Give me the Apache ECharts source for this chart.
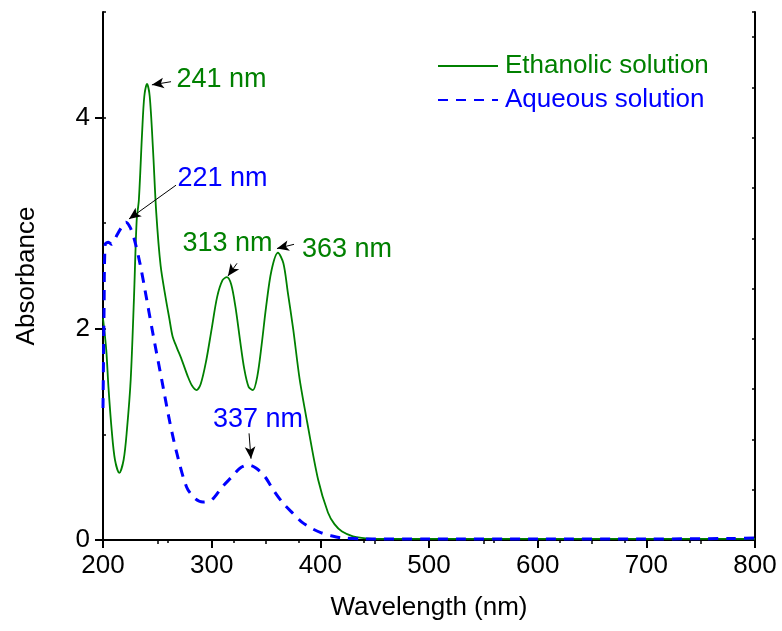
<!DOCTYPE html>
<html>
<head>
<meta charset="utf-8">
<script src="https://cdn.jsdelivr.net/npm/echarts/dist/echarts.min.js"></script>
<style>
  html, body { margin: 0; padding: 0; background: #fff; }
  #main { width: 782px; height: 631px; }
</style>
</head>
<body>
<div id="main"></div>
<script>
// values
var ethanolWl = [200, 203, 205, 208, 211, 215, 219, 222, 225.5, 228.5, 231, 233, 236, 238, 240.5,
  243, 246, 249, 253, 257.7, 261, 264, 268, 272, 278, 282, 286, 290, 295, 300, 305, 310, 314,
  318, 322, 326, 330, 334, 338, 342, 346, 350, 355, 361, 366, 370, 375, 381, 388, 398, 407,
  413, 420, 430, 438, 450, 500, 600, 700, 800];
var ethanolAbs = [2.1, 1.8, 1.45, 1.04, 0.76, 0.635, 0.76, 1.04, 1.52, 2.29, 3.03, 3.22, 3.86, 4.2, 4.32,
  4.2, 3.7, 3.1, 2.6, 2.29, 2.1, 1.93, 1.82, 1.72, 1.55, 1.46, 1.42, 1.48, 1.7, 2.0, 2.3, 2.46, 2.49,
  2.42, 2.2, 1.9, 1.62, 1.45, 1.42, 1.55, 1.85, 2.2, 2.55, 2.72, 2.62, 2.35, 2.0, 1.52, 1.11, 0.57, 0.26,
  0.15, 0.08, 0.035, 0.02, 0.01, 0.01, 0.01, 0.01, 0.01];

var aqueousWl = [200, 201, 202, 205, 208, 210, 213, 217, 221, 225, 229, 234, 238.6, 246, 254, 261.6,
  268, 277, 285, 292, 300, 309.5, 318.7, 326, 334, 341, 349, 357, 365.6, 375, 383, 392, 401.5,
  410, 420, 440, 500, 600, 700, 780, 800];
var aqueousAbs = [1.25, 2.2, 2.8, 2.82, 2.8, 2.83, 2.89, 2.96, 3.01, 2.96, 2.84, 2.62, 2.37, 1.95, 1.52, 1.11,
  0.82, 0.5, 0.39, 0.36, 0.38, 0.5, 0.6, 0.68, 0.71, 0.68, 0.6, 0.47, 0.35, 0.25, 0.17, 0.11, 0.066,
  0.04, 0.02, 0.01, 0.01, 0.01, 0.01, 0.015, 0.02];

// peak annotations: text, text centre [nm, A], arrow tail, arrow head
var ethanolNotes = [
  { text: '241 nm', at: [309, 4.36], from: [262.6, 4.34], to: [245, 4.31] },
  { text: '313 nm', at: [314.6, 2.81], from: [323.3, 2.62], to: [315, 2.5] },
  { text: '363 nm', at: [424.5, 2.75], from: [375.8, 2.8], to: [360.1, 2.76] }
];
var aqueousNotes = [
  { text: '221 nm', at: [310, 3.42], from: [267.2, 3.36], to: [223.9, 3.04] },
  { text: '337 nm', at: [342.6, 1.14], from: [334.4, 1.01], to: [336.2, 0.77] }
];

var green = '#008000';
var blue = '#0000ff';
var font = 'Liberation Sans, Arial, sans-serif';

function pairs(xs, ys) {
  var out = [];
  for (var i = 0; i < xs.length; i++) out.push([xs[i], ys[i]]);
  return out;
}

function notePoints(notes) {
  return notes.map(function (n) {
    return { coord: n.at, value: n.text };
  });
}

function noteArrows(notes) {
  return notes.map(function (n) {
    return [{ coord: n.from, symbol: 'none' }, { coord: n.to, symbol: 'arrow' }];
  });
}

var chart = echarts.init(document.getElementById('main'));

chart.setOption({
  animation: false,
  backgroundColor: '#fff',
  textStyle: { fontFamily: font },
  grid: { left: 103, right: 27, top: 12, bottom: 91 },
  legend: {
    left: 432,
    top: 48,
    orient: 'vertical',
    itemWidth: 60,
    itemHeight: 14,
    itemGap: 8,
    selectedMode: false,
    itemStyle: { opacity: 0 },
    textStyle: { fontSize: 26, fontFamily: font, padding: [0, 0, 0, 2] },
    data: [
      { name: 'Ethanolic solution', textStyle: { color: green } },
      { name: 'Aqueous solution', textStyle: { color: blue } }
    ]
  },
  xAxis: [{
    type: 'value',
    min: 200,
    max: 800,
    interval: 100,
    name: 'Wavelength (nm)',
    nameLocation: 'middle',
    nameGap: 55,
    nameTextStyle: { fontSize: 26, color: '#000', fontFamily: font },
    axisLine: { lineStyle: { color: '#000', width: 2 } },
    axisTick: { length: 8, lineStyle: { color: '#000', width: 2 } },
    minorTick: { show: true, splitNumber: 2, length: 4, lineStyle: { color: '#000', width: 1.5 } },
    axisLabel: { fontSize: 26, color: '#000', margin: 13, fontFamily: font },
    splitLine: { show: false }
  }, {
    type: 'value',
    position: 'top',
    min: 0,
    max: 10,
    interval: 1,
    axisLine: { lineStyle: { color: '#000', width: 2 } },
    axisTick: { inside: true, length: 3, lineStyle: { color: '#000', width: 1.5 } },
    axisLabel: { show: false },
    splitLine: { show: false }
  }],
  yAxis: [{
    type: 'value',
    min: 0,
    max: 5,
    interval: 2,
    name: 'Absorbance',
    nameLocation: 'middle',
    nameGap: 63,
    nameTextStyle: { fontSize: 26, color: '#000', fontFamily: font },
    axisLine: { show: true, lineStyle: { color: '#000', width: 2 } },
    axisTick: { length: 8, lineStyle: { color: '#000', width: 2 } },
    axisLabel: { fontSize: 26, color: '#000', margin: 13, showMaxLabel: false, fontFamily: font },
    splitLine: { show: false }
  }, {
    type: 'value',
    position: 'left',
    min: 0,
    max: 5,
    interval: 1,
    axisLine: { show: false },
    axisTick: { inside: true, length: 3, lineStyle: { color: '#000', width: 1.5 } },
    axisLabel: { show: false },
    splitLine: { show: false }
  }, {
    type: 'value',
    position: 'right',
    min: 0,
    max: 10.5,
    interval: 1,
    axisLine: { show: true, lineStyle: { color: '#000', width: 2 } },
    axisTick: { inside: true, length: 3, lineStyle: { color: '#000', width: 1.5 } },
    axisLabel: { show: false },
    splitLine: { show: false }
  }],
  series: [{
    name: 'Ethanolic solution',
    type: 'line',
    data: pairs(ethanolWl, ethanolAbs),
    smooth: 0.3,
    symbol: 'none',
    color: green,
    lineStyle: { color: green, width: 1.8 },
    markPoint: {
      symbol: 'circle',
      symbolSize: 0,
      silent: true,
      label: {
        show: true, position: 'inside', color: green, fontSize: 27, fontFamily: font,
        formatter: function (p) { return p.value; }
      },
      data: notePoints(ethanolNotes)
    },
    markLine: {
      silent: true,
      symbolSize: [8, 12],
      label: { show: false },
      lineStyle: { color: '#000', type: 'solid', width: 1 },
      data: noteArrows(ethanolNotes).concat(noteArrows(aqueousNotes))
    }
  }, {
    name: 'Aqueous solution',
    type: 'line',
    data: pairs(aqueousWl, aqueousAbs),
    smooth: 0.3,
    symbol: 'none',
    color: blue,
    lineStyle: { color: blue, width: 3, type: [10, 8] },
    markPoint: {
      symbol: 'circle',
      symbolSize: 0,
      silent: true,
      label: {
        show: true, position: 'inside', color: blue, fontSize: 27, fontFamily: font,
        formatter: function (p) { return p.value; }
      },
      data: notePoints(aqueousNotes)
    }
  }]
});
</script>
</body>
</html>
